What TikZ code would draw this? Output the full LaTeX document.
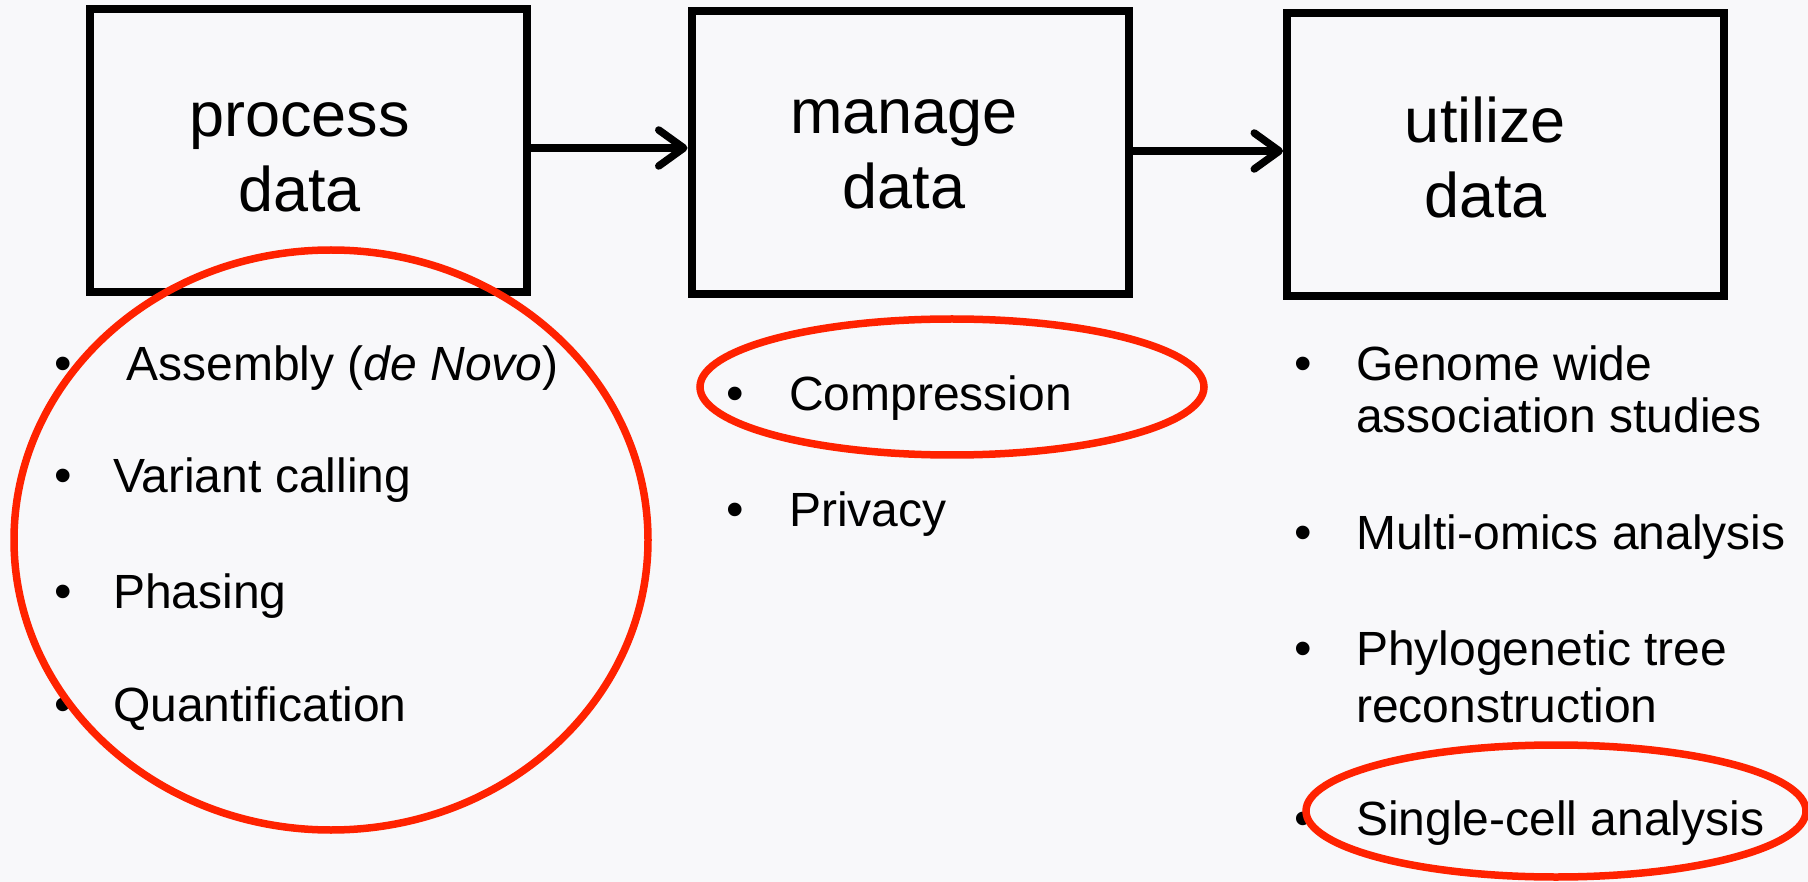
\documentclass[tikz,border=0pt]{standalone}
\usepackage{fontspec}
\setmainfont{Liberation Sans}
\usetikzlibrary{arrows.meta,shapes.geometric}
\definecolor{bg}{HTML}{F8F8FA}
\definecolor{ringred}{HTML}{FF2200}
\tikzset{
  stagebox/.style={draw=black, line width=8pt, minimum width=437pt, minimum height=283pt, inner sep=0pt},
  stagetext/.style={align=center, font=\fontsize{63}{75}\selectfont, inner sep=0pt},
  flowarrow/.style={line width=7.5pt, -{Straight Barb[length=25pt,width=36pt,line cap=round,line join=round]}},
  itemtext/.style={anchor=base west, font=\fontsize{48}{52}\selectfont, inner sep=0pt},
  bulletmark/.style={anchor=base, font=\fontsize{50}{50}\selectfont, inner sep=0pt},
  ring/.style={draw=ringred, line width=7.5pt},
}
\begin{document}
\begin{tikzpicture}[x=1pt,y=-1pt]
\fill[bg] (0,0) rectangle (1808,882);
\useasboundingbox (0,0) rectangle (1808,882);

\node[stagebox] (b1) at (308.5,150.5) {};
\node[stagebox] (b2) at (910,153) {};
\node[stagebox] (b3) at (1505.5,155) {};
\node[stagetext] (b1l) at ([xshift=-9pt,yshift=-7pt]b1.center) {process\\data};
\node[stagetext] (b2l) at ([xshift=-6pt,yshift=-1pt]b2.center) {manage\\data};
\node[stagetext] (b3l) at ([xshift=-20pt,yshift=-2pt]b3.center) {utilize\\data};

\draw[flowarrow] (b1.east |- 0,148) coordinate (a1s) -- (b2.west |- a1s);
\draw[flowarrow] (b2.east |- 0,151) coordinate (a2s) -- (b3.west |- a2s);

% column 1
\node[bulletmark] (c1b1) at (63,381) {•};
\node[itemtext] (c1t1) at (113,381) {\ Assembly (\textit{de Novo})};
\node[bulletmark] (c1b2) at (63,493) {•};
\node[itemtext] (c1t2) at (113,493) {Variant calling};
\node[bulletmark] (c1b3) at (63,608) {•};
\node[itemtext] (c1t3) at (113,608) {Phasing};
\node[bulletmark] (c1b4) at (63,721) {•};
\node[itemtext] (c1t4) at (113,721) {Quantification};

% column 2
\node[bulletmark] (c2b1) at (735,411) {•};
\node[itemtext] (c2t1) at (789,411) {Compression};
\node[bulletmark] (c2b2) at (735,526) {•};
\node[itemtext] (c2t2) at (789,526) {Privacy};

% column 3
\node[bulletmark] (c3b1) at (1303,381) {•};
\node[itemtext] (c3t1) at (1356,381) {Genome wide};
\node[itemtext] (c3t1b) at (1356,433) {association studies};
\node[bulletmark] (c3b2) at (1303,549) {•};
\node[itemtext] (c3t2) at (1356,549) {Multi-omics analysis};
\node[bulletmark] (c3b3) at (1303,665) {•};
\node[itemtext] (c3t3) at (1356,665) {Phylogenetic tree};
\node[itemtext] (c3t3b) at (1356,722) {reconstruction};
\node[bulletmark] (c3b4) at (1303,835) {•};
\node[itemtext] (c3t4) at (1356,835) {Single-cell analysis};

% red rings
\draw[ring] (331,540) ellipse [x radius=317, y radius=290];
\draw[ring] (952,387) ellipse [x radius=252, y radius=68];
\draw[ring] (1556,811) ellipse [x radius=250, y radius=66];
\end{tikzpicture}
\end{document}
